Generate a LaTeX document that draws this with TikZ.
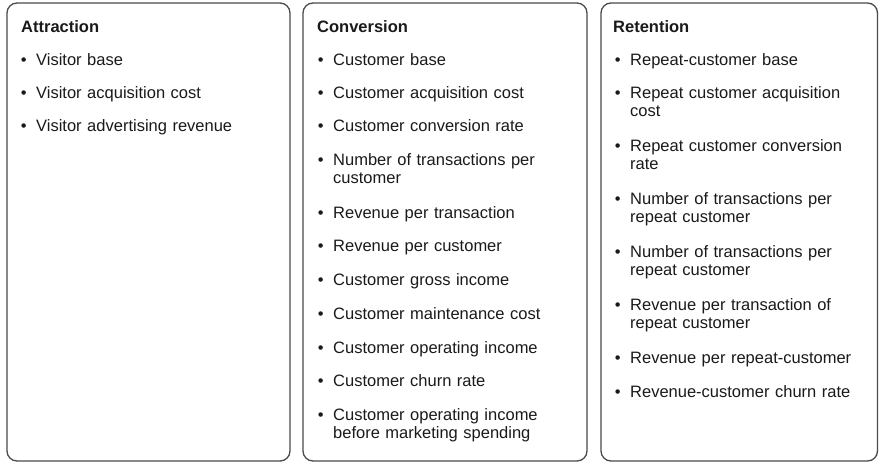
\documentclass[tikz,border=0pt]{standalone}
\usepackage{fontspec}
\setmainfont{Liberation Sans}
\definecolor{frame}{HTML}{4A4A4A}
\definecolor{ink}{HTML}{1A1A1A}
\newcommand{\bul}{\llap{\textbullet\hspace{9.5pt}}}
\begin{document}
\begin{tikzpicture}[x=1pt,y=-1pt,
  panel/.style={draw=frame, line width=1.3pt, rounded corners=10pt, minimum height=458pt, inner sep=0pt},
  heading/.style={anchor=base west, inner sep=0pt, text=ink, font=\fontsize{16.5}{18.5}\selectfont\bfseries},
  item/.style={anchor=base west, inner sep=0pt, text=ink, text width=250pt, align=left, font=\fontsize{16.5}{18.6}\selectfont}]
\useasboundingbox (0,0) rectangle (879,463);
\fill[white] (0,0) rectangle (879,463);

\node[panel, minimum width=283pt] (p1) at (148.5,232) {};
\node[panel, minimum width=284pt] (p2) at (445,232) {};
\node[panel, minimum width=276.5pt] (p3) at (739.25,232) {};

% Attraction
\node[heading] (h1) at (21,32) {Attraction};
\node[item] (a1) at (36,65) {\bul Visitor base};
\node[item] (a2) at (36,98) {\bul Visitor acquisition cost};
\node[item] (a3) at (36,131) {\bul Visitor advertising revenue};

% Conversion
\node[heading] (h2) at (317,32) {Conversion};
\node[item] (c1) at (333,65) {\bul Customer base};
\node[item] (c2) at (333,98) {\bul Customer acquisition cost};
\node[item] (c3) at (333,131) {\bul Customer conversion rate};
\node[item] (c4) at (333,165) {\bul Number of transactions per\\customer};
\node[item] (c5) at (333,218) {\bul Revenue per transaction};
\node[item] (c6) at (333,251) {\bul Revenue per customer};
\node[item] (c7) at (333,285) {\bul Customer gross income};
\node[item] (c8) at (333,319) {\bul Customer maintenance cost};
\node[item] (c9) at (333,353) {\bul Customer operating income};
\node[item] (c10) at (333,386) {\bul Customer churn rate};
\node[item] (c11) at (333,420) {\bul Customer operating income\\before marketing spending};

% Retention
\node[heading] (h3) at (613,32) {Retention};
\node[item] (r1) at (630,65) {\bul Repeat-customer base};
\node[item] (r2) at (630,98) {\bul Repeat customer acquisition\\cost};
\node[item] (r3) at (630,151) {\bul Repeat customer conversion\\rate};
\node[item] (r4) at (630,204) {\bul Number of transactions per\\repeat customer};
\node[item] (r5) at (630,257) {\bul Number of transactions per\\repeat customer};
\node[item] (r6) at (630,310) {\bul Revenue per transaction of\\repeat customer};
\node[item] (r7) at (630,363) {\bul Revenue per repeat-customer};
\node[item] (r8) at (630,397) {\bul Revenue-customer churn rate};
\end{tikzpicture}
\end{document}
